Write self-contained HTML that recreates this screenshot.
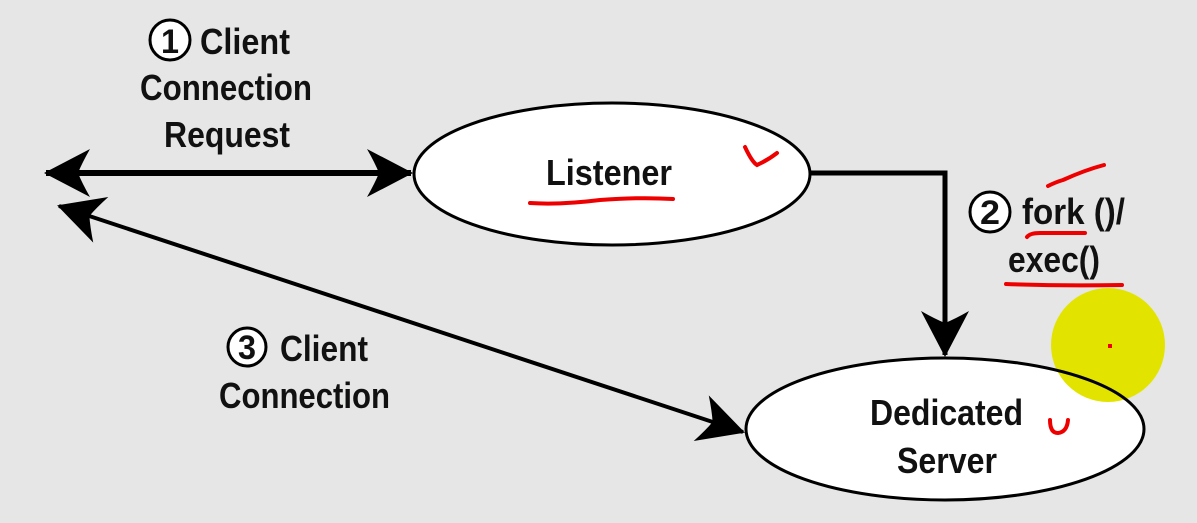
<!DOCTYPE html>
<html><head><meta charset="utf-8"><style>
html,body{margin:0;padding:0;background:#e5e6e5;}
svg{display:block;}
text{font-family:"Liberation Sans Narrow","Liberation Sans",sans-serif;font-weight:bold;fill:#111;}
</style></head><body>
<svg width="1197" height="523" viewBox="0 0 1197 523" xmlns="http://www.w3.org/2000/svg">
<defs>
<marker id="ah" markerUnits="userSpaceOnUse" markerWidth="60" markerHeight="60" refX="0" refY="0" viewBox="-50 -30 60 60" orient="auto-start-reverse">
<path d="M2,0 L-44,-24 Q-36,-10 -32,0 Q-36,10 -44,24 Z" fill="#000"/>
</marker>
</defs>
<rect width="1197" height="523" fill="#e5e6e5"/>
<line x1="46" y1="173" x2="411" y2="173" stroke="#000" stroke-width="6" marker-start="url(#ah)" marker-end="url(#ah)"/>
<line x1="59" y1="206" x2="743" y2="432" stroke="#000" stroke-width="4" marker-start="url(#ah)" marker-end="url(#ah)"/>
<polyline points="810,173 945,173 945,355" fill="none" stroke="#000" stroke-width="5" marker-end="url(#ah)"/>
<ellipse cx="612" cy="174" rx="198" ry="71" fill="#fff" stroke="#000" stroke-width="3"/>
<ellipse cx="945" cy="429" rx="199" ry="71" fill="#fff"/>
<circle cx="1108" cy="345" r="57" fill="#e3e300"/>
<rect x="1108" y="344" width="4" height="4" fill="#e00"/>
<ellipse cx="945" cy="429" rx="199" ry="71" fill="none" stroke="#000" stroke-width="3"/>
<circle cx="170" cy="40" r="20" fill="#fff" stroke="#000" stroke-width="3"/>
<text x="170" y="53" font-size="34" text-anchor="middle" textLength="18" lengthAdjust="spacingAndGlyphs">1</text>
<text x="200" y="54" font-size="36" textLength="90" lengthAdjust="spacingAndGlyphs">Client</text>
<text x="140" y="100" font-size="36" textLength="172" lengthAdjust="spacingAndGlyphs">Connection</text>
<text x="164" y="147" font-size="36" textLength="126" lengthAdjust="spacingAndGlyphs">Request</text>
<text x="546" y="185" font-size="36" textLength="126" lengthAdjust="spacingAndGlyphs">Listener</text>
<circle cx="990" cy="212" r="20" fill="#fff" stroke="#000" stroke-width="3"/>
<text x="990" y="224" font-size="34" text-anchor="middle" textLength="20" lengthAdjust="spacingAndGlyphs">2</text>
<text x="1022" y="224" font-size="36" textLength="103" lengthAdjust="spacingAndGlyphs">fork ()/</text>
<text x="1008" y="272" font-size="36" textLength="92" lengthAdjust="spacingAndGlyphs">exec()</text>
<circle cx="247" cy="347" r="19" fill="#fff" stroke="#000" stroke-width="3"/>
<text x="247" y="359" font-size="34" text-anchor="middle" textLength="18" lengthAdjust="spacingAndGlyphs">3</text>
<text x="280" y="361" font-size="36" textLength="88" lengthAdjust="spacingAndGlyphs">Client</text>
<text x="219" y="408" font-size="36" textLength="171" lengthAdjust="spacingAndGlyphs">Connection</text>
<text x="870" y="425" font-size="36" textLength="153" lengthAdjust="spacingAndGlyphs">Dedicated</text>
<text x="897" y="473" font-size="36" textLength="100" lengthAdjust="spacingAndGlyphs">Server</text>
<g fill="none" stroke="#e00" stroke-width="4" stroke-linecap="round">
<path d="M530,203 Q560,205 600,200 Q640,197 673,199"/>
<path d="M745,147 Q752,162 757,165 Q768,160 777,153"/>
<path d="M1048,186 Q1056,182 1063,180 Q1085,170 1104,165"/>
<path d="M1027,237 Q1030,233 1040,233 L1085,233"/>
<path d="M1006,284 Q1060,286 1122,285"/>
<path d="M1050,420 Q1050,433 1058,433 Q1067,432 1068,420"/>
</g>
</svg>
</body></html>
